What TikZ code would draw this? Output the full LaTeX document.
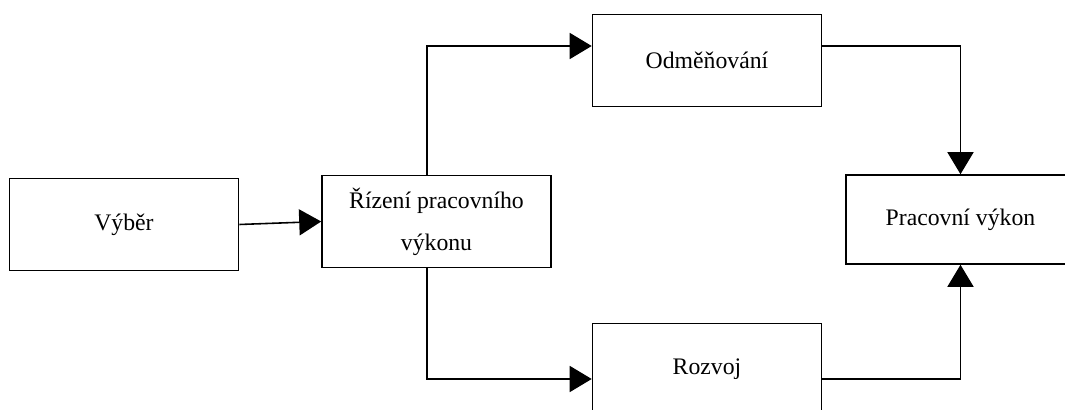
\documentclass[tikz,border=0pt]{standalone}
\usepackage{fontspec}
\setmainfont{Liberation Serif}
\usetikzlibrary{arrows.meta}

\begin{document}
\begin{tikzpicture}[
  box/.style={draw, line width=0.9pt, minimum width=4.58cm, minimum height=1.84cm,
    align=center, font=\fontsize{13.5}{24}\selectfont},
  arr/.style={line width=0.9pt, -{Triangle[length=0.44cm, width=0.52cm]}}
]
\useasboundingbox (0,0) rectangle (21.3,8.2);

\node[box] (vyber)  at (2.48,3.71)  {Výběr};
\node[box] (rizeni) at (8.73,3.77)  {Řízení pracovního\\výkonu};
\node[box] (odmena) at (14.14,6.99) {Odměňování};
\node[box] (rozvoj) at (14.14,0.81) {Rozvoj};
\node[box, minimum height=1.78cm] (vykon) at (19.21,3.81) {Pracovní výkon};

\coordinate (fork) at (8.54,3.77);

\draw[arr] (vyber.east) -- (rizeni.west);
\draw[arr] (fork |- rizeni.north) |- ([yshift=0.29cm]odmena.west);
\draw[arr] (fork |- rizeni.south) |- ([yshift=-0.19cm]rozvoj.west);
\draw[arr] ([yshift=0.29cm]odmena.east) -| (vykon.north);
\draw[arr] ([yshift=-0.19cm]rozvoj.east) -| (vykon.south);

\end{tikzpicture}
\end{document}
